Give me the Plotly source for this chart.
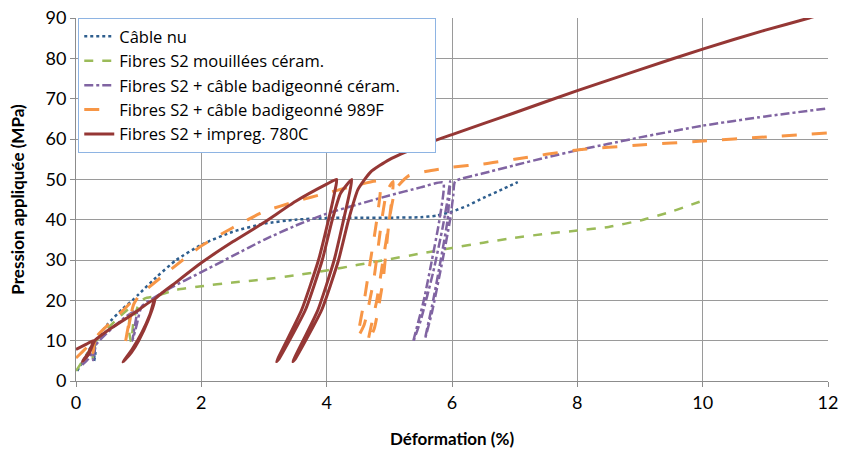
import plotly.graph_objects as go

# Câble nu
nu_x = [0.02, 0.15, 0.28, 0.31, 0.29, 0.32, 0.5, 0.75, 0.9, 1.0, 1.3, 1.6, 2.0, 2.5, 3.0, 3.5, 4.0, 4.5, 5.0, 5.5, 5.75, 6.0, 6.25, 6.5, 6.8, 7.05]
nu_y = [2.5, 6.0, 9.5, 7.0, 5.0, 10.0, 14.0, 18.0, 20.0, 21.5, 26.0, 30.0, 33.8, 37.0, 39.0, 40.0, 40.4, 40.5, 40.5, 40.6, 41.0, 42.0, 43.5, 45.4, 47.5, 49.3]

# Fibres S2 mouillées céram.
mc_x = [0.0, 0.15, 0.28, 0.26, 0.3, 0.5, 0.7, 0.86, 0.84, 0.88, 0.92, 1.0, 1.1, 1.26, 1.6, 2.0, 2.5, 3.0, 3.5, 4.0, 4.5, 5.0, 5.5, 6.0, 6.5, 7.0, 7.5, 8.0, 8.5, 9.0, 9.5, 10.05]
mc_y = [2.5, 6.0, 9.0, 4.5, 9.5, 13.0, 16.0, 18.0, 13.0, 9.7, 15.0, 19.0, 20.5, 21.0, 22.6, 23.5, 24.4, 25.2, 26.2, 27.4, 28.8, 30.2, 31.6, 33.0, 34.3, 35.5, 36.5, 37.3, 38.2, 39.8, 42.0, 45.0]

# Fibres S2 + câble badigeonné céram.
bc_x = [0.1, 0.2, 0.3, 0.27, 0.32, 0.5, 0.8, 0.97, 0.93, 0.9, 0.97, 1.05, 1.5, 2.0, 2.5, 3.0, 3.5, 4.0, 4.5, 5.0, 5.5, 5.86,
        5.8, 5.68, 5.55, 5.38, 5.5, 5.7, 5.85, 5.93, 5.97,
        5.93, 5.82, 5.7, 5.57, 5.68, 5.85, 5.97, 6.02, 6.05,
        6.5, 7.0, 7.5, 8.0, 8.5, 9.0, 10.0, 11.0, 12.0]
bc_y = [4.0, 5.5, 8.0, 5.2, 9.0, 12.0, 16.0, 17.5, 13.0, 10.0, 14.0, 18.5, 23.0, 27.0, 31.0, 35.0, 38.5, 41.5, 43.8, 46.0, 48.0, 49.2,
        40.0, 30.0, 20.0, 9.7, 15.0, 27.0, 38.0, 45.0, 49.5,
        40.0, 30.0, 20.0, 10.5, 17.0, 30.0, 40.0, 46.0, 49.5,
        51.5, 53.5, 55.4, 57.2, 58.8, 60.4, 63.3, 65.6, 67.6]

# Fibres S2 + câble badigeonné 989F
bf_x = [0.0, 0.15, 0.3, 0.27, 0.33, 0.55, 0.75, 0.9, 0.86, 0.79, 0.84, 0.92, 1.0, 1.5, 2.0, 2.5, 3.0, 3.5, 4.0, 4.5, 4.85,
        4.8, 4.7, 4.6, 4.5, 4.6, 4.75, 4.88, 4.96, 5.06,
        5.0, 4.9, 4.8, 4.66, 4.76, 4.9, 5.0, 5.1, 5.3, 5.6, 6.0, 6.5, 7.0, 8.0, 9.0, 10.0, 11.0, 12.0]
bf_y = [5.7, 8.0, 10.5, 7.0, 11.0, 14.5, 17.5, 19.7, 15.0, 9.7, 14.0, 19.0, 21.0, 27.5, 33.5, 38.0, 42.0, 44.5, 46.6, 48.6, 49.5,
        40.0, 30.0, 20.0, 11.0, 14.0, 25.0, 40.0, 47.0, 49.5,
        40.0, 30.0, 20.0, 9.7, 13.0, 25.0, 40.0, 47.5, 50.8, 52.0, 53.0, 53.8, 55.0, 57.3, 58.5, 59.5, 60.5, 61.5]

# Fibres S2 + impreg. 780C
im_x = [0.0, 0.15, 0.28, 0.2, 0.1, 0.2, 0.3, 0.6, 0.9, 1.26,
        1.15, 1.0, 0.88, 0.75, 0.9, 1.05, 1.18, 1.26,
        1.6, 2.0, 2.5, 3.0, 3.5, 4.0, 4.16,
        4.13, 4.03, 3.87, 3.6, 3.2,
        3.24, 3.66, 3.93, 4.09, 4.22, 4.4,
        4.37, 4.27, 4.12, 3.86, 3.46,
        3.5, 3.92, 4.19, 4.35, 4.5, 4.7, 5.0, 5.5, 6.0, 6.5, 7.0, 8.0, 9.0, 10.0, 11.0, 11.7, 12.0]
im_y = [7.8, 9.0, 10.0, 7.0, 4.8, 6.5, 10.0, 13.5, 16.5, 20.3,
        15.0, 10.0, 7.0, 4.7, 8.0, 12.0, 16.5, 20.3,
        24.5, 29.3, 34.5, 39.3, 44.5, 48.8, 50.0,
        47.0, 40.0, 30.0, 17.6, 4.8,
        5.5, 17.6, 30.0, 40.0, 46.5, 50.0,
        47.0, 40.0, 30.0, 17.6, 4.8,
        5.5, 17.6, 30.0, 40.0, 47.5, 51.8, 54.9, 58.3, 61.1, 63.8, 66.5, 72.0, 77.2, 82.3, 87.0, 90.0, 91.5]

names = ["Câble nu", "Fibres S2 mouillées céram.", "Fibres S2 + câble badigeonné céram.",
         "Fibres S2 + câble badigeonné 989F", "Fibres S2 + impreg. 780C"]

styles = [("#2E5E8E", "dot", 2.5), ("#9BBB59", "dash", 2.5), ("#8064A2", "dashdot", 2.5),
          ("#F79646", "longdash", 3), ("#953735", "solid", 3)]
data = [(nu_x, nu_y), (mc_x, mc_y), (bc_x, bc_y), (bf_x, bf_y), (im_x, im_y)]

FONT = "Lato, Liberation Sans, Arial"
LEGFONT = "Open Sans, Lato, Arial"

fig = go.Figure()
for i, (name, (xs, ys), (col, dash, w)) in enumerate(zip(names, data, styles)):
    # invisible trailing padding on the longest entry widens the legend box like the reference
    label = name + ("\u00a0" * 7 if i == 2 else "")
    fig.add_trace(go.Scatter(x=xs, y=ys, name=label, mode="lines",
                             line=dict(color=col, dash=dash, width=w, shape="spline", smoothing=0.5)))

axis_common = dict(showgrid=True, gridcolor="#9a9a9a", gridwidth=1, zeroline=False,
                   showline=True, linecolor="#8c8c8c", linewidth=1, ticks="outside",
                   ticklen=5, tickcolor="#8c8c8c", automargin=False,
                   tickfont=dict(family=FONT, size=18, color="#000"))

fig.update_layout(
    width=841, height=450,
    margin=dict(l=76, r=13, t=18, b=69),
    paper_bgcolor="white", plot_bgcolor="white",
    font=dict(family=FONT, color="#000"),
    xaxis=dict(range=[0, 12], dtick=2, tick0=0,
               title=dict(text="<b>Déformation (%)</b>", font=dict(family=FONT, size=17), standoff=21),
               **axis_common),
    yaxis=dict(range=[0, 90], dtick=10, tick0=0,
               title=dict(text="<b>Pression appliquée (MPa)</b>", font=dict(family=FONT, size=17), standoff=16),
               **axis_common),
    legend=dict(x=0.003, y=1.0, xanchor="left", yanchor="top", bgcolor="white",
                bordercolor="#8EB4E3", borderwidth=1, tracegroupgap=0, itemwidth=30,
                font=dict(family=LEGFONT, size=16.5, color="#000")),
    showlegend=True,
)

# remove the default page margin so the figure sits at the window's top-left corner
fig.write_html("out.html", config={"displayModeBar": False},
               post_script="document.body.style.margin='0';")
